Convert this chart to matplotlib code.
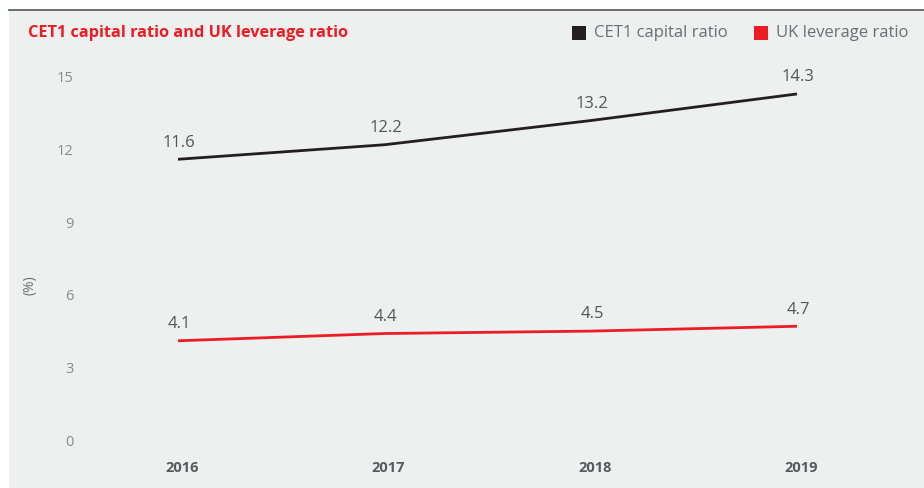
import matplotlib.pyplot as plt
import matplotlib.transforms as mtransforms
from matplotlib.patches import Rectangle

# =============================================================================
# DATA
# =============================================================================
years = [2016, 2017, 2018, 2019]
cet1 = [11.6, 12.2, 13.2, 14.3]
uk_leverage = [4.1, 4.4, 4.5, 4.7]
y_ticks = [0, 3, 6, 9, 12, 15]
title = 'CET1 capital ratio and UK leverage ratio'
series_names = ['CET1 capital ratio', 'UK leverage ratio']

# =============================================================================
# STYLE
# =============================================================================
plt.rcParams['font.family'] = ['Open Sans', 'DejaVu Sans']
red = '#ec1c24'
black = '#231f20'
bg = '#eeefef'

W, H = 924, 488
fig = plt.figure(figsize=(W / 100, H / 100), dpi=100)
fig.patch.set_facecolor('white')

## gray panel and top rule
fig.patches.append(Rectangle((9 / W, 0), 1, (H - 11) / H, transform=fig.transFigure,
                             facecolor=bg, edgecolor='none', zorder=-5))
fig.add_artist(plt.Line2D([9 / W, 1], [(H - 10) / H] * 2, color='#555555', lw=1.2))

## axes placed so that 2016..2019 and 0..15 land where they do in the reference
x0, x1, y0, y1 = 178, 797, 440, 77
ax = fig.add_axes([x0 / W, (H - y0) / H, (x1 - x0) / W, (y0 - y1) / H])
ax.set_facecolor('none')
ax.set_zorder(2)
for s in ax.spines.values():
    s.set_visible(False)
ax.set_xlim(years[0], years[-1])
ax.set_ylim(0, 15)

ax.plot(years, cet1, color=black, lw=2.0, clip_on=False, solid_capstyle='butt')
ax.plot(years, uk_leverage, color=red, lw=2.0, clip_on=False, solid_capstyle='butt')

for vals in (cet1, uk_leverage):
    for x, v in zip(years, vals):
        ax.annotate(f'{v:.1f}', (x, v), xytext=(1, 12), textcoords='offset points',
                    ha='center', va='center', fontsize=12, color='#555557')

ax.set_yticks(y_ticks)
ax.set_yticklabels([str(t) for t in y_ticks])
ax.set_xticks(years)
ax.set_xticklabels([str(y) for y in years], fontweight='bold')
ax.tick_params(axis='y', length=0, pad=75, labelsize=10.5, labelcolor='#8a8a8a')
ax.tick_params(axis='x', length=0, pad=15, labelsize=10.5, labelcolor='#58595b')
shift = mtransforms.ScaledTranslation(4 / 100, 0, fig.dpi_scale_trans)
for lbl in ax.get_xticklabels():
    lbl.set_transform(lbl.get_transform() + shift)

fig.text(30 / W, 1 - 285 / H, '(%)', rotation=90, ha='center', va='center',
         fontsize=10, color='#6d6e70')

## title and legend
fig.text(28 / W, 1 - 33 / H, title, ha='left', va='center', fontsize=11.7,
         fontweight='bold', color=red)
leg = [(572, black, series_names[0]), (754, red, series_names[1])]
for lx, c, name in leg:
    fig.patches.append(Rectangle((lx / W, 1 - 40 / H), 14 / W, 14 / H,
                                 transform=fig.transFigure, facecolor=c,
                                 edgecolor='none'))
    fig.text((lx + 22) / W, 1 - 33 / H, name, ha='left', va='center',
             fontsize=12, color='#6d6e70')

fig.savefig('out.png', dpi=100, facecolor=fig.get_facecolor())
